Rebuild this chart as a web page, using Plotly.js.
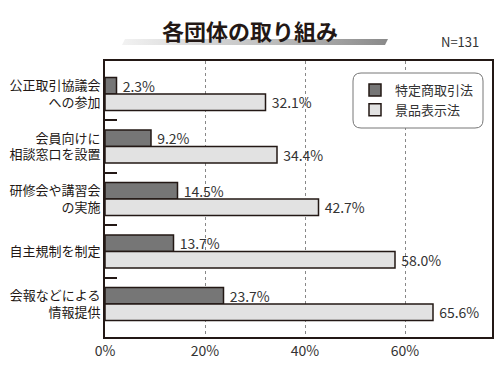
<!DOCTYPE html>
<html>
<head>
<meta charset="utf-8">
<script src="https://cdn.plot.ly/plotly-3.0.1.min.js"></script>
<style>html,body{margin:0;padding:0;background:#fff;}</style>
</head>
<body>
<div id="chart" style="width:500px;height:375px;"></div>
<script>
// ---- data ----
const categories = ["公正取引協議会<br>への参加", "会員向けに<br>相談窓口を設置", "研修会や講習会<br>の実施", "自主規制を制定", "会報などによる<br>情報提供"];
const seriesNames = ["特定商取引法", "景品表示法"];
const tokushoho = [2.3, 9.2, 14.5, 13.7, 23.7];
const keihyoho = [32.1, 34.4, 42.7, 58.0, 65.6];
const xTickVals = [0, 20, 40, 60];
const xTickText = ["0%", "20%", "40%", "60%"];
const chartTitle = "各団体の取り組み";
const sampleNote = "N=131";

// ---- layout helpers ----
const W = 500, H = 375;
const M = {l: 105, r: 8, t: 61, b: 38};
const PW = W - M.l - M.r, PH = H - M.t - M.b;
const px2x = p => (p - M.l) / PW;
const px2y = p => 1 - (p - M.t) / PH;

const idx = categories.map((_, i) => i);
const boundaries = idx.slice(1).map(i => i - 0.5);
const FONT = '"Noto Sans CJK JP", "Noto Sans", sans-serif';
const edge = '#231815';

const traces = [
  {
    type: 'bar', orientation: 'h', name: seriesNames[0], legendgroup: 'a',
    x: tokushoho, y: idx,
    marker: {color: '#767676', line: {color: edge, width: 1.5}},
    texttemplate: '\u00a0%{x:.1f}%', textposition: 'outside', cliponaxis: false,
    constraintext: 'none',
    textfont: {size: 14, color: '#333', family: FONT}, hoverinfo: 'skip'
  },
  {
    type: 'bar', orientation: 'h', name: seriesNames[1], legendgroup: 'b',
    x: keihyoho, y: idx,
    marker: {color: '#e2e2e2', line: {color: edge, width: 1.5}},
    texttemplate: '\u00a0%{x:.1f}%', textposition: 'outside', cliponaxis: false,
    constraintext: 'none',
    textfont: {size: 14, color: '#333', family: FONT}, hoverinfo: 'skip'
  }
];

// rounded legend frame
const lx0 = px2x(353), lx1 = px2x(483), ly1 = px2y(73), ly0 = px2y(128);
const rx = 8 / PW, ry = 8 / PH;
const legendPath = `M${lx0+rx},${ly1} L${lx1-rx},${ly1} Q${lx1},${ly1} ${lx1},${ly1-ry} L${lx1},${ly0+ry} Q${lx1},${ly0} ${lx1-rx},${ly0} L${lx0+rx},${ly0} Q${lx0},${ly0} ${lx0},${ly0+ry} L${lx0},${ly1-ry} Q${lx0},${ly1} ${lx0+rx},${ly1} Z`;

// gradient bar under the title
const barSvg = '<svg xmlns="http://www.w3.org/2000/svg" width="266" height="6" viewBox="0 0 266 6" preserveAspectRatio="none">' +
  '<defs><linearGradient id="g" x1="0" x2="1" y1="0" y2="0"><stop offset="0" stop-color="#f2f2f2"/><stop offset="0.5" stop-color="#c4c4c4"/><stop offset="1" stop-color="#8a8a8a"/></linearGradient></defs>' +
  '<polygon points="3,0 266,0 263,6 0,6" fill="url(#g)"/></svg>';

const layout = {
  width: W, height: H,
  margin: M,
  paper_bgcolor: '#fff', plot_bgcolor: '#fff',
  font: {family: FONT, color: '#333'},
  title: {
    text: '<b>' + chartTitle + '</b>',
    font: {size: 22, color: '#231815', family: FONT},
    x: 0.5, xref: 'container', xanchor: 'center',
    y: 1 - 32 / H, yref: 'container', yanchor: 'middle'
  },
  barmode: 'group', bargap: 0.37, bargroupgap: 0,
  xaxis: {
    range: [0, 77.4], tickvals: xTickVals, ticktext: xTickText,
    tickfont: {size: 14, color: '#333', family: FONT},
    showgrid: true, gridcolor: '#888', griddash: 'dot', gridwidth: 1,
    showline: true, linecolor: edge, linewidth: 2, mirror: true,
    ticks: '', zeroline: false, fixedrange: true
  },
  yaxis: {
    range: [4.629, -0.629], tickmode: 'array', tickvals: idx, ticktext: categories,
    tickfont: {size: 13, color: '#231815', family: FONT},
    showline: true, linecolor: edge, linewidth: 2, mirror: true,
    showgrid: false, zeroline: false, ticks: '', ticklen: 0,
    minor: {tickmode: 'array', tickvals: boundaries, ticks: 'inside', ticklen: 12, tickwidth: 2, tickcolor: edge, showgrid: false},
    fixedrange: true
  },
  showlegend: true,
  legend: {
    x: px2x(355), y: px2y(75), xanchor: 'left', yanchor: 'top',
    bgcolor: 'rgba(0,0,0,0)', borderwidth: 0,
    font: {size: 13, color: '#333', family: FONT},
    tracegroupgap: 10, traceorder: 'normal'
  },
  shapes: [{
    type: 'path', xref: 'paper', yref: 'paper', path: legendPath,
    fillcolor: '#fff', line: {color: '#777', width: 1}, layer: 'above'
  }],
  images: [{
    source: 'data:image/svg+xml;charset=utf-8,' + encodeURIComponent(barSvg),
    xref: 'paper', yref: 'paper',
    x: px2x(122), y: px2y(39), sizex: 266 / PW, sizey: 6 / PH,
    xanchor: 'left', yanchor: 'top', sizing: 'stretch', layer: 'below'
  }],
  annotations: [{
    text: sampleNote, xref: 'paper', yref: 'paper',
    x: px2x(481), y: px2y(42), xanchor: 'right', yanchor: 'middle',
    showarrow: false, font: {size: 13, color: '#333', family: FONT}
  }]
};

Plotly.newPlot('chart', traces, layout, {displayModeBar: false, staticPlot: true});
</script>
</body>
</html>
